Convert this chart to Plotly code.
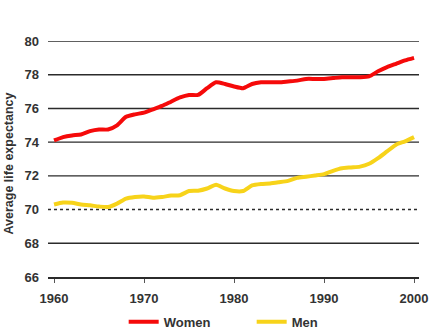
import plotly.graph_objects as go

years = list(range(1960, 2001))
women = [74.1, 74.3, 74.4, 74.45, 74.65, 74.75, 74.75, 75.0, 75.5, 75.65,
         75.75, 75.95, 76.15, 76.4, 76.65, 76.8, 76.8, 77.2, 77.55, 77.45,
         77.3, 77.2, 77.45, 77.55, 77.55, 77.55, 77.6, 77.65, 77.75, 77.75,
         77.75, 77.8, 77.85, 77.85, 77.85, 77.9, 78.2, 78.45, 78.65, 78.85, 79.0]
men = [70.3, 70.42, 70.4, 70.3, 70.25, 70.18, 70.15, 70.35, 70.65, 70.75,
       70.78, 70.7, 70.75, 70.83, 70.85, 71.1, 71.12, 71.25, 71.47, 71.25,
       71.1, 71.1, 71.43, 71.52, 71.55, 71.62, 71.7, 71.88, 71.95, 72.02,
       72.1, 72.3, 72.45, 72.5, 72.55, 72.72, 73.05, 73.45, 73.85, 74.05, 74.3]

y_ticks = [66, 68, 70, 72, 74, 76, 78, 80]
x_ticks = [1960, 1970, 1980, 1990, 2000]
dotted_line = 70

FONT = "Liberation Sans, Arial, sans-serif"
TXT = "#333333"

fig = go.Figure()
fig.add_trace(go.Scatter(x=years, y=women, name="Women", mode="lines",
                         line=dict(color="#f50a0a", width=4, shape="spline", smoothing=0.6)))
fig.add_trace(go.Scatter(x=years, y=men, name="Men", mode="lines",
                         line=dict(color="#f7d31a", width=4, shape="spline", smoothing=0.6)))

shapes = []
for v in y_ticks[1:]:
    shapes.append(dict(type="line", xref="paper", yref="y", x0=0, x1=1, y0=v, y1=v,
                       line=dict(color="#2b2b2b", width=1.4,
                                 dash="dot" if v == dotted_line else "solid"),
                       layer="below"))

fig.update_layout(
    width=433, height=331,
    margin=dict(l=48, r=14, t=41, b=54, autoexpand=False),
    paper_bgcolor="white", plot_bgcolor="white",
    font=dict(family=FONT, color=TXT, size=13, weight="bold"),
    shapes=shapes,
    showlegend=True,
    legend=dict(orientation="h", x=0.549, xanchor="center", y=-0.19, yanchor="middle",
                font=dict(size=13, weight="bold", color=TXT), itemwidth=30,
                entrywidth=83, traceorder="normal"),
    xaxis=dict(range=[1959.33, 2000.55], tickvals=x_ticks, showgrid=False, zeroline=False,
               showline=True, linecolor="#2b2b2b", linewidth=2,
               ticks="outside", ticklen=4, tickcolor="#555555", tickwidth=1,
               ticklabelstandoff=4,
               tickfont=dict(size=13, weight="bold", color=TXT)),
    yaxis=dict(range=[66, 80], tickvals=y_ticks, showgrid=False, zeroline=False,
               showline=False, ticks="", ticklabelstandoff=8,
               tickfont=dict(size=13, weight="bold", color=TXT)),
    annotations=[dict(text="Average life expectancy", textangle=-90, xref="paper", yref="paper",
                      x=(9 - 48) / 371, y=0.481, xanchor="center", yanchor="middle",
                      showarrow=False, font=dict(size=12.5, weight="bold", color=TXT))],
)

fig.write_html("out.html")
